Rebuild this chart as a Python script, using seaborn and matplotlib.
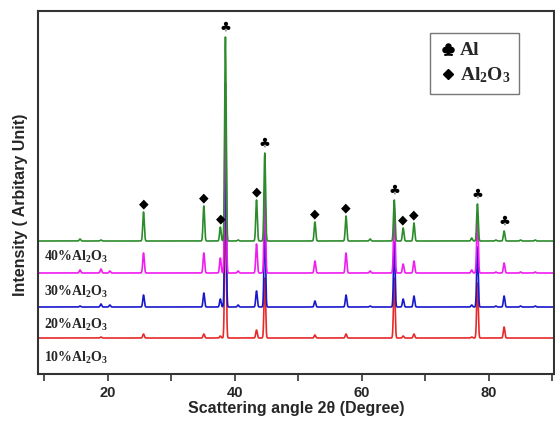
"""
XRD patterns of Al / Al2O3 composites, stacked with offsets.
"""

import numpy as np
import pandas as pd
import matplotlib
matplotlib.use("Agg")
import matplotlib.pyplot as plt
from matplotlib.lines import Line2D
import seaborn as sns

# --- data -------------------------------------------------------------------
series_names = ["10%Al$_2$O$_3$", "20%Al$_2$O$_3$", "30%Al$_2$O$_3$", "40%Al$_2$O$_3$"]
series_colors = ["#e62a2a", "#1818cc", "#f01cf0", "#2c8c2c"]
offsets = [36, 67, 101, 133]

# peak positions (2theta, degrees)
peak_pos = [15.6, 18.9, 20.3, 25.6, 35.1, 37.7, 38.5, 40.5, 43.4, 44.7,
            52.6, 57.5, 61.3, 65.1, 66.5, 68.2, 77.3, 78.2, 81.1, 82.4, 85.0, 87.3]
# peak heights per sample (same order as peak_pos)
heights_10 = [0, 1, 0, 4, 4, 2, 150, 0, 8, 60, 3, 4, 0, 60, 2, 4, 1, 55, 0, 11, 0, 0]
heights_20 = [1, 3, 2, 12, 14, 8, 170, 2, 16, 80, 6, 12, 1, 65, 8, 11, 2, 60, 1, 11, 1, 1]
heights_30 = [3, 4, 2, 20, 20, 15, 190, 2, 29, 80, 12, 20, 2, 65, 9, 12, 3, 60, 1, 10, 1, 1]
heights_40 = [2, 1, 0, 29, 35, 14, 204, 1, 41, 88, 19, 25, 2, 41, 13, 18, 3, 37, 1, 10, 1, 1]
heights = [heights_10, heights_20, heights_30, heights_40]

# phase marks on the top pattern
al_peaks = [38.5, 44.7, 65.1, 78.2, 82.4]
al2o3_peaks = [25.6, 35.1, 37.7, 43.4, 52.6, 57.5, 66.5, 68.2]

# --- build the stacked patterns ---------------------------------------------
two_theta = np.arange(9.0, 90.2, 0.02)
width = 0.12

frames = []
for name, off, hs in zip(series_names, offsets, heights):
    y = np.full_like(two_theta, off, dtype=float)
    for p, h in zip(peak_pos, hs):
        y += h * np.exp(-0.5 * ((two_theta - p) / width) ** 2)
    frames.append(pd.DataFrame({"two_theta": two_theta, "intensity": y, "sample": name}))
df = pd.concat(frames, ignore_index=True)

# --- plot --------------------------------------------------------------------
sns.set_style("white")
plt.rcParams["font.family"] = ["Liberation Sans", "DejaVu Sans"]
plt.rcParams["mathtext.fontset"] = "custom"
plt.rcParams["mathtext.rm"] = "Liberation Serif:bold"
plt.rcParams["mathtext.bf"] = "Liberation Serif:bold"
plt.rcParams["mathtext.it"] = "Liberation Serif:bold"

fig = plt.figure(figsize=(5.55, 4.21), dpi=100)
ax = fig.add_axes([0.0685, 0.1116, 0.929, 0.8623])

sns.lineplot(data=df, x="two_theta", y="intensity", hue="sample",
             palette=series_colors, hue_order=series_names, linewidth=1.2,
             legend=False, ax=ax, estimator=None, sort=False)

ax.set_xlim(8.98, 90.2)
ax.set_ylim(0, 363)

# phase symbols above the top pattern peaks
top_heights = dict(zip(peak_pos, heights_40))
for p in al_peaks:
    ax.text(p, offsets[3] + top_heights[p] + 3, "\u2663", ha="center", va="bottom",
            fontsize=9.5, color="black", family="DejaVu Sans")
for p in al2o3_peaks:
    ax.text(p, offsets[3] + top_heights[p] + 1.5, "\u25c6", ha="center", va="bottom",
            fontsize=9, color="black", family="DejaVu Sans")

# sample labels
label_y = [16, 49, 82, 117]
for name, ly in zip(series_names, label_y):
    ax.text(9.9, ly, name, ha="left", va="center", fontsize=10,
            family="Liberation Serif", fontweight="bold")

# legend
handles = [Line2D([], [], linestyle="none", marker="$\u2663$", color="black", markersize=8),
           Line2D([], [], linestyle="none", marker="D", color="black", markersize=5)]
leg = ax.legend(handles, ["Al", "Al$_2$O$_3$"], loc="upper right",
                bbox_to_anchor=(0.933, 0.939), borderaxespad=0, frameon=True, fancybox=False,
                prop={"family": "Liberation Serif", "weight": "bold", "size": 14},
                handletextpad=0.1, handlelength=1.0, borderpad=0.45, labelspacing=0.3)
leg.get_frame().set_edgecolor("#555555")
leg.get_frame().set_linewidth(1.0)

ax.set_xlabel("Scattering angle 2\u03b8 (Degree)", fontsize=11.5, fontweight="bold", labelpad=1)
ax.set_ylabel("Intensity ( Arbitary Unit)", fontsize=11.5, fontweight="bold")
ax.yaxis.set_label_coords(-0.019, 0.465)
ax.set_xticks([20, 40, 60, 80])
ax.set_xticks([10, 30, 50, 70, 90], minor=True)
ax.set_yticks([])
ax.tick_params(axis="x", which="both", direction="out", length=5, width=1.2,
               bottom=True, color="#333333", labelsize=10.5)
for t in ax.get_xticklabels():
    t.set_fontweight("bold")
for s in ax.spines.values():
    s.set_linewidth(1.5)
    s.set_color("#333333")

fig.savefig("out.png", dpi=100)
